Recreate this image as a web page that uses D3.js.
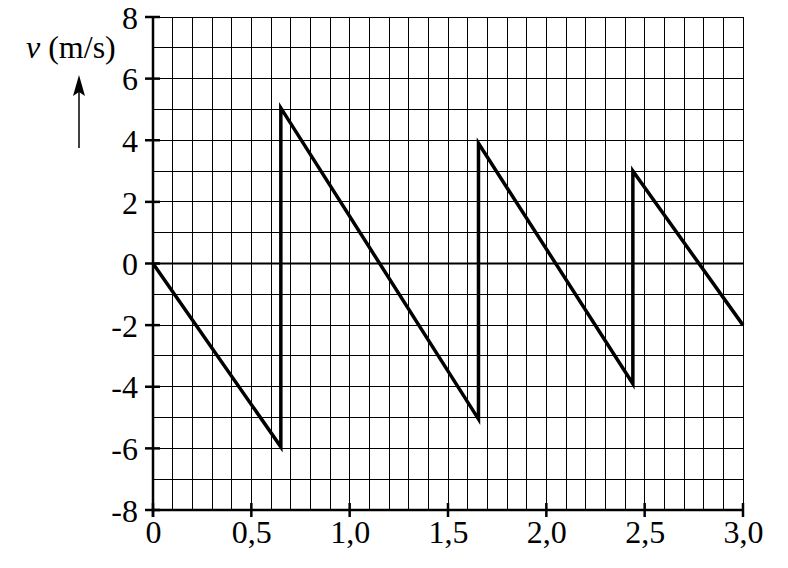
<!DOCTYPE html>
<html><head><meta charset="utf-8">
<script src="https://cdn.jsdelivr.net/npm/d3@7"></script>
<style>body{margin:0;background:#fff}svg{display:block}text{font-family:"Times New Roman",Times,"Liberation Serif",serif;fill:#000}</style>
</head><body>
<svg id="c" width="788" height="568"></svg>
<script>
const times = [0, 0.65, 0.65, 1.655, 1.655, 2.44, 2.44, 3.0];
const velocities = [0, -5.95, 5.05, -5.05, 3.9, -3.9, 3.0, -2.0];
const xTickValues = [0, 0.5, 1.0, 1.5, 2.0, 2.5, 3.0];
const xTickLabels = ["0", "0,5", "1,0", "1,5", "2,0", "2,5", "3,0"];
const yTickValues = [-8, -6, -4, -2, 0, 2, 4, 6, 8];
const yTickLabels = ["-8", "-6", "-4", "-2", "0", "2", "4", "6", "8"];
const xGridStep = 0.1, yGridStep = 1;
const axisTitle = "(m/s)", axisVar = "v";

const svg = d3.select("#c");
const x = d3.scaleLinear().domain([0, 3]).range([153, 743]);
const y = d3.scaleLinear().domain([-8, 8]).range([510, 17]);

const xg = d3.range(0, 30 + 1).map(i => +(i * xGridStep).toFixed(2));
const yg = d3.range(-8, 9, yGridStep);

const grid = svg.append("g").attr("stroke", "#000").attr("stroke-width", 1).attr("shape-rendering", "crispEdges");
grid.selectAll("line.v").data(xg).join("line").attr("class","v")
  .attr("x1", d => x(d)).attr("x2", d => x(d)).attr("y1", y(8)).attr("y2", y(-8));
grid.selectAll("line.h").data(yg).join("line").attr("class","h")
  .attr("x1", x(0)).attr("x2", x(3)).attr("y1", d => y(d)).attr("y2", d => y(d));

svg.append("line").attr("x1", x(0)).attr("x2", x(3)).attr("y1", y(0)).attr("y2", y(0))
  .attr("stroke", "#000").attr("stroke-width", 2);

svg.append("line").attr("x1", x(0)).attr("x2", x(0)).attr("y1", y(8)).attr("y2", y(-8) + 7)
  .attr("stroke", "#000").attr("stroke-width", 2.5);
svg.append("line").attr("x1", x(0)).attr("x2", x(3)).attr("y1", y(-8)).attr("y2", y(-8))
  .attr("stroke", "#000").attr("stroke-width", 2.5);

const yAxis = d3.axisLeft(y).tickValues(yTickValues).tickSize(0).tickPadding(15)
  .tickFormat((d, i) => yTickLabels[i]);
const ya = svg.append("g").attr("transform", `translate(${x(0)},0)`).call(yAxis);
ya.select(".domain").remove();
ya.attr("font-family", null);
ya.selectAll("text").attr("font-size", 32).attr("dy", "0.35em");
svg.selectAll("line.yt").data(yTickValues).join("line").attr("class","yt")
  .attr("x1", x(0) - 8).attr("x2", x(0) + 7).attr("y1", d => y(d)).attr("y2", d => y(d))
  .attr("stroke", "#000").attr("stroke-width", 2.5);

const xAxis = d3.axisBottom(x).tickValues(xTickValues).tickSize(0).tickPadding(10)
  .tickFormat((d, i) => xTickLabels[i]);
const xa = svg.append("g").attr("transform", `translate(0,${y(-8)})`).call(xAxis);
xa.select(".domain").remove();
xa.attr("font-family", null);
xa.selectAll("text").attr("font-size", 32).attr("dy", "0.72em");
svg.selectAll("line.xt").data(xTickValues).join("line").attr("class","xt")
  .attr("x1", d => x(d)).attr("x2", d => x(d)).attr("y1", y(-8) - 7).attr("y2", y(-8) + 7)
  .attr("stroke", "#000").attr("stroke-width", 2.5);

const pts = times.map((t, i) => [t, velocities[i]]);
svg.append("path").datum(pts)
  .attr("d", d3.line().x(d => x(d[0])).y(d => y(d[1])))
  .attr("fill", "none").attr("stroke", "#000").attr("stroke-width", 3.5)
  .attr("stroke-linejoin", "miter").attr("stroke-miterlimit", 10);

const t = svg.append("text").attr("x", 26).attr("y", 58).attr("font-size", 32);
t.append("tspan").attr("font-style", "italic").text(axisVar);
t.append("tspan").text(" " + axisTitle);

svg.append("line").attr("x1", 79).attr("x2", 79).attr("y1", 148).attr("y2", 90)
  .attr("stroke", "#000").attr("stroke-width", 1.5);
svg.append("path").attr("d", "M79,75 L73,96 L79,92 L85,96 Z").attr("fill", "#000");
</script>
</body></html>
